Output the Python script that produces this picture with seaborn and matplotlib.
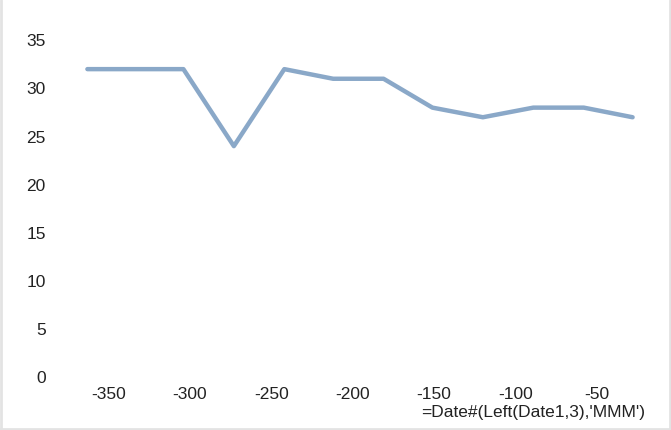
import matplotlib
matplotlib.use('Agg')
import matplotlib.pyplot as plt
import seaborn as sns
import pandas as pd
from matplotlib.lines import Line2D

days = [-363, -334, -304, -273, -242, -212, -181, -151, -120, -89, -58, -28]
values = [32, 32, 32, 24, 32, 31, 31, 28, 27, 28, 28, 27]
x_ticks = [-350, -300, -250, -200, -150, -100, -50]
y_ticks = [0, 5, 10, 15, 20, 25, 30, 35]

df = pd.DataFrame({'day': days, 'value': values})

sns.set_style('white')
plt.rcParams['font.family'] = ['Liberation Sans', 'DejaVu Sans']
plt.rcParams['axes.unicode_minus'] = False

fig = plt.figure(figsize=(6.71, 4.30), dpi=100)
ax = fig.add_axes([0.089, 0.123, 0.895, 0.855])

sns.lineplot(data=df, x='day', y='value', ax=ax, color='#8aa8c8', linewidth=3.2)

ax.set_xlim(-380, -11)
ax.set_ylim(0, 38.2)
ax.set_xticks(x_ticks)
ax.set_yticks(y_ticks)
for s in ax.spines.values():
    s.set_visible(False)
ax.tick_params(axis='both', which='both', length=3, width=0.6, color='#c8c8c8',
               labelsize=12.5, labelcolor='#222222', direction='out')
ax.tick_params(axis='y', pad=7)
ax.tick_params(axis='x', pad=4)
ax.set_ylabel('')
ax.set_xlabel("=Date#(Left(Date1,3),'MMM')", fontsize=12.5, color='#222222')
ax.xaxis.set_label_coords(0.975, -0.075)
ax.xaxis.label.set_horizontalalignment('right')

# light frame around the figure
c = '#e3e3e3'
fig.add_artist(Line2D([0.0015, 0.0015], [0, 1], transform=fig.transFigure, color=c, lw=2))
fig.add_artist(Line2D([0.9985, 0.9985], [0, 1], transform=fig.transFigure, color=c, lw=2))
fig.add_artist(Line2D([0, 1], [0.003, 0.003], transform=fig.transFigure, color=c, lw=2))

fig.savefig('out.png', dpi=100)
